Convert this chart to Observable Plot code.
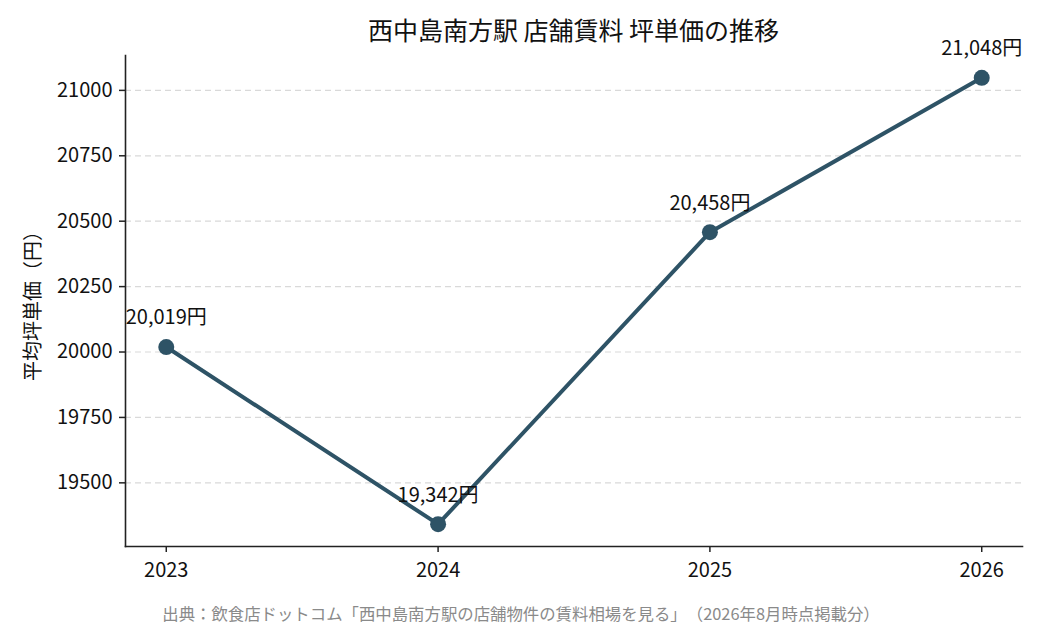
<!DOCTYPE html>
<html>
<head>
<meta charset="utf-8">
<script src="https://cdn.jsdelivr.net/npm/d3@7"></script>
<script src="https://cdn.jsdelivr.net/npm/@observablehq/plot@0.6"></script>
<style>
  html, body { margin: 0; padding: 0; background: #fff; }
  #wrap { position: relative; width: 1050px; height: 630px; font-family: "Noto Sans CJK JP", "Noto Sans", sans-serif; }
  #title { position: absolute; left: 125px; width: 897px; top: 14px; text-align: center; font-size: 25px; color: #111; line-height: 1.2; }
  #caption { position: absolute; left: 0; width: 1042px; top: 604px; text-align: center; font-size: 16.4px; color: #8a8a8a; line-height: 1.2; text-spacing-trim: space-all; }
</style>
</head>
<body>
<div id="wrap">
  <div id="chart"></div>
  <div id="title">西中島南方駅 店舗賃料 坪単価の推移</div>
  <div id="caption">出典：飲食店ドットコム「西中島南方駅の店舗物件の賃料相場を見る」（2026年8月時点掲載分）</div>
</div>
<script>
const years = [2023, 2024, 2025, 2026];
const prices = [20019, 19342, 20458, 21048];
const yTicks = [19500, 19750, 20000, 20250, 20500, 20750, 21000];
const yLabel = "平均坪単価（円）";

const data = years.map((y, i) => ({year: y, price: prices[i], label: d3.format(",")(prices[i]) + "円"}));

const xMin = d3.min(years), xMax = d3.max(years);
const xPad = (xMax - xMin) * 0.05;
const yMin = d3.min(prices), yMax = d3.max(prices);
const yPad = (yMax - yMin) * 0.05;

const color = "#2e5366";

const chart = Plot.plot({
  width: 1050,
  height: 630,
  marginLeft: 125,
  marginRight: 28,
  marginTop: 55,
  marginBottom: 84,
  style: { fontFamily: "'Noto Sans CJK JP', 'Noto Sans', sans-serif", fontSize: "20px", color: "#111", background: "#fff" },
  x: { type: "linear", domain: [xMin - xPad, xMax + xPad] },
  y: { domain: [yMin - yPad, yMax + yPad] },
  marks: [
    Plot.ruleY(yTicks, { stroke: "#d9d9d9", strokeWidth: 1.2, strokeDasharray: "6,4" }),
    Plot.axisY({ ticks: yTicks, tickFormat: d => String(d), tickSize: 6, tickPadding: 7, fontSize: 20, stroke: "#222", strokeWidth: 1.5,
      label: yLabel, labelAnchor: "center", labelArrow: "none", labelOffset: 100 }),
    Plot.axisX({ ticks: years, tickFormat: d => String(d), tickSize: 6, tickPadding: 10, fontSize: 20, stroke: "#222", strokeWidth: 1.5, label: null }),
    Plot.frame({ anchor: "left", stroke: "#222", strokeWidth: 1.6 }),
    Plot.frame({ anchor: "bottom", stroke: "#222", strokeWidth: 1.6 }),
    Plot.lineY(data, { x: "year", y: "price", stroke: color, strokeWidth: 4 }),
    Plot.dot(data, { x: "year", y: "price", r: 8, fill: color, stroke: "none" }),
    Plot.text(data, { x: "year", y: "price", text: "label", dy: -29, fontSize: 20, fill: "#111" })
  ]
});
document.getElementById("chart").appendChild(chart);
</script>
</body>
</html>
